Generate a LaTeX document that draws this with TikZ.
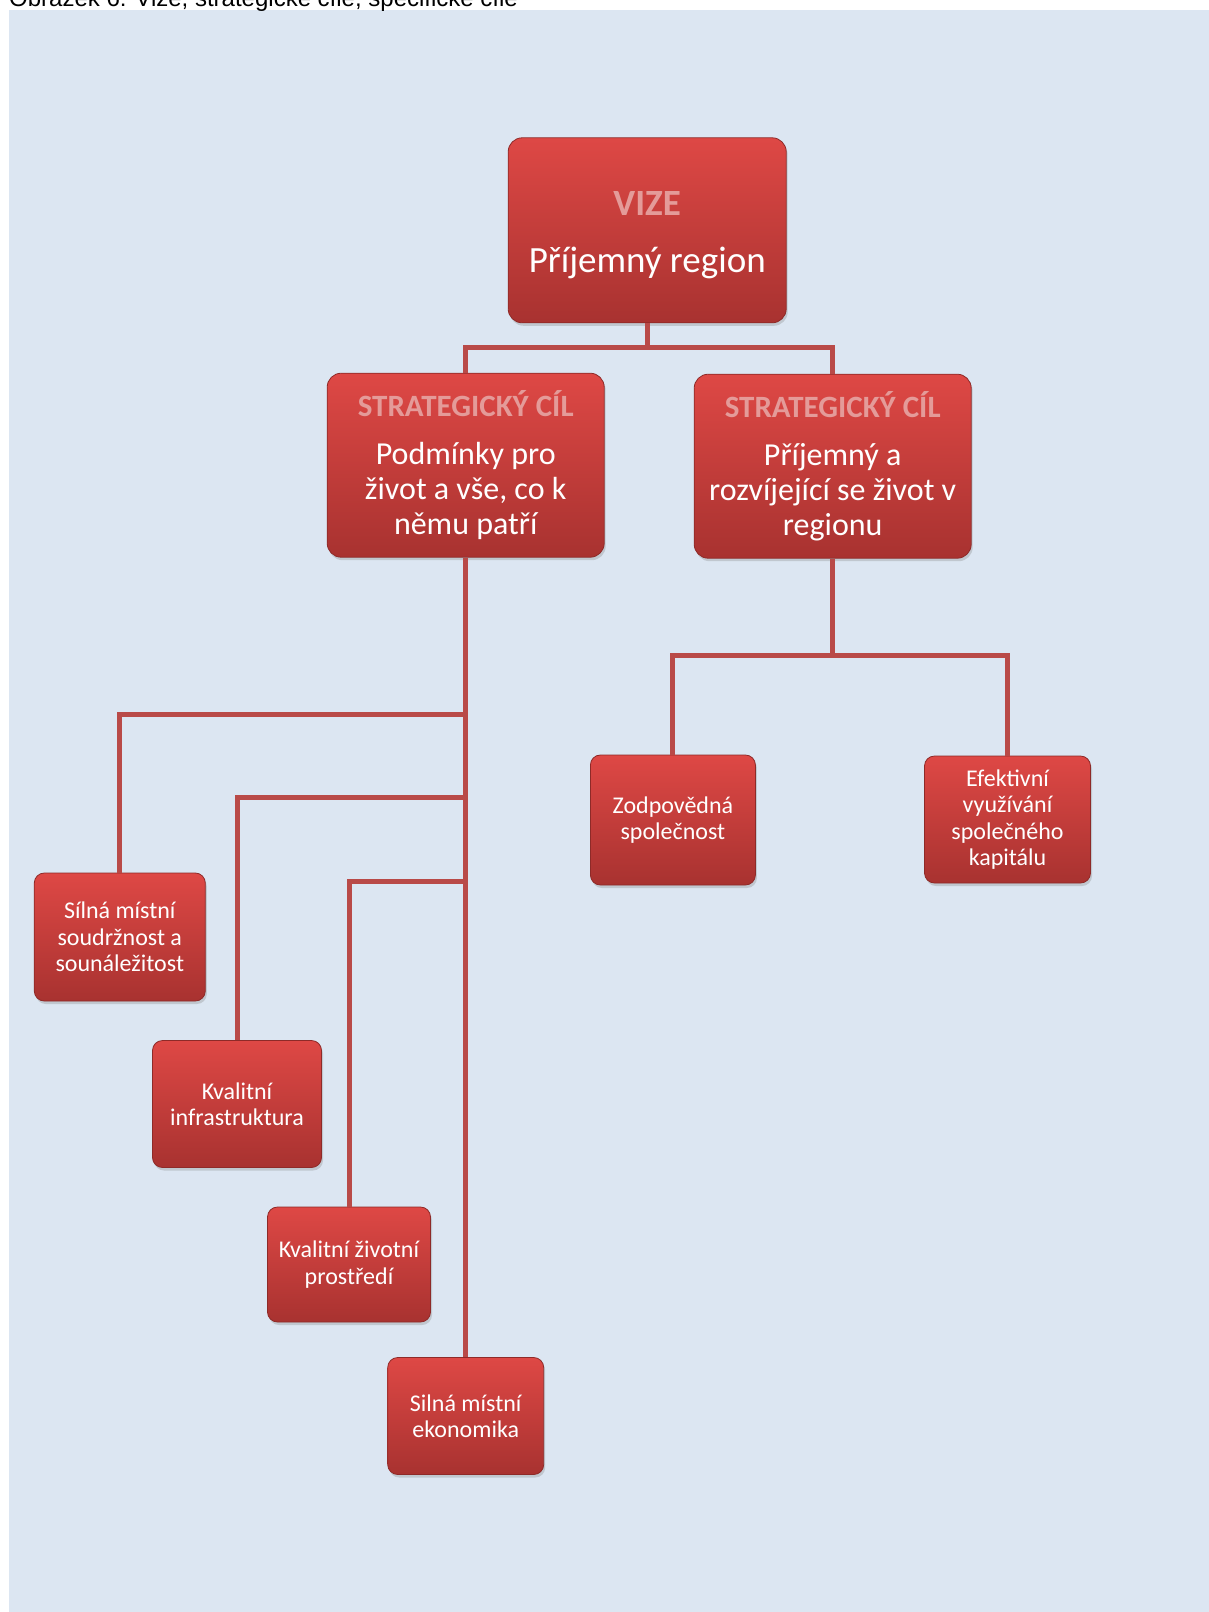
\documentclass[tikz,border=0pt]{standalone}
\usepackage{fontspec}
\setmainfont{Carlito}
\newfontfamily\capfont{Liberation Sans}
\usepackage{xcolor}
\usetikzlibrary{shadows}
\definecolor{paleBlue}{HTML}{DCE6F2}
\definecolor{redTop}{HTML}{DE4845}
\definecolor{redBot}{HTML}{A83230}
\definecolor{redEdge}{HTML}{8E2A28}
\definecolor{lineRed}{HTML}{B94A48}
\definecolor{headPink}{HTML}{E49B99}
\tikzset{
  box/.style={rounded corners=14pt, draw=redEdge, line width=0.8pt, top color=redTop, bottom color=redBot,
    text=white, align=center, inner sep=4pt,
    drop shadow={opacity=0.3, shadow xshift=1.5pt, shadow yshift=-3pt}},
  vizebox/.style={box, minimum width=278pt, minimum height=185pt, font=\fontsize{37}{40}\selectfont},
  goalbox/.style={box, minimum width=277pt, minimum height=184pt, font=\fontsize{32}{35}\selectfont},
  leafbox/.style={box, rounded corners=10pt, font=\fontsize{24}{26.5}\selectfont},
  link/.style={draw=lineRed, line width=5pt}
}
\newcommand{\headtxt}[1]{{\bfseries\color{headPink}#1}}

\begin{document}
\begin{tikzpicture}[x=1pt,y=-1pt]
\useasboundingbox (0,0) rectangle (1209,1612);
\clip (0,0) rectangle (1209,1612);
\fill[paleBlue] (9.3,9.5) rectangle (1209,1612);
\node[font=\capfont\fontsize{24}{27}\selectfont, anchor=base west, inner sep=0pt] (caption) at (9,6)
  {Obrázek 6: Vize, strategické cíle, specifické cíle};

% levels
\node[vizebox] (vize) at (647.2,230.3)
  {\rule{0pt}{34pt}{\fontsize{37}{40}\selectfont\headtxt{VIZE}}\\[17pt]Příjemný region};
\node[goalbox] (cil1) at (465.7,465.2)
  {{\fontsize{31}{34}\selectfont\headtxt{STRATEGICKÝ CÍL}}\\[13pt]Podmínky pro\\život a vše, co k\\němu patří};
\node[goalbox] (cil2) at (832.7,466.2)
  {{\fontsize{31}{34}\selectfont\headtxt{STRATEGICKÝ CÍL}}\\[13pt]Příjemný a\\rozvíjející se život v\\regionu};

\node[leafbox, minimum width=171pt, minimum height=128pt] (soudrz) at (119.8,937)
  {Sílná místní\\soudržnost a\\sounáležitost};
\node[leafbox, minimum width=169pt, minimum height=127pt] (infra) at (237,1104)
  {Kvalitní\\infrastruktura};
\node[leafbox, minimum width=163pt, minimum height=115pt] (prostr) at (349,1264.5)
  {Kvalitní životní\\prostředí};
\node[leafbox, minimum width=156pt, minimum height=117pt] (ekon) at (465.7,1416)
  {Silná místní\\ekonomika};
\node[leafbox, minimum width=165pt, minimum height=130pt] (zodp) at (672.9,820)
  {Zodpovědná\\společnost};
\node[leafbox, minimum width=166pt, minimum height=127pt] (kapit) at (1007.5,819.5)
  {Efektivní\\využívání\\společného\\kapitálu};

% connectors
\coordinate (vj) at (647.2,347.5);
\draw[link] (vize.south) -- (vj) -| (cil1.north);
\draw[link] (vj) -| (cil2.north);

\coordinate (b1) at (465.7,714.5);
\coordinate (b2) at (465.7,797.8);
\coordinate (b3) at (465.7,881);
\draw[link] (cil1.south) -- (ekon.north);
\draw[link] (b1) -| (soudrz.north);
\draw[link] (b2) -| (infra.north);
\draw[link] (b3) -| (prostr.north);

\coordinate (sj) at (832.7,655.9);
\draw[link] (cil2.south) -- (sj) -| (zodp.north);
\draw[link] (sj) -| (kapit.north);
\end{tikzpicture}
\end{document}
